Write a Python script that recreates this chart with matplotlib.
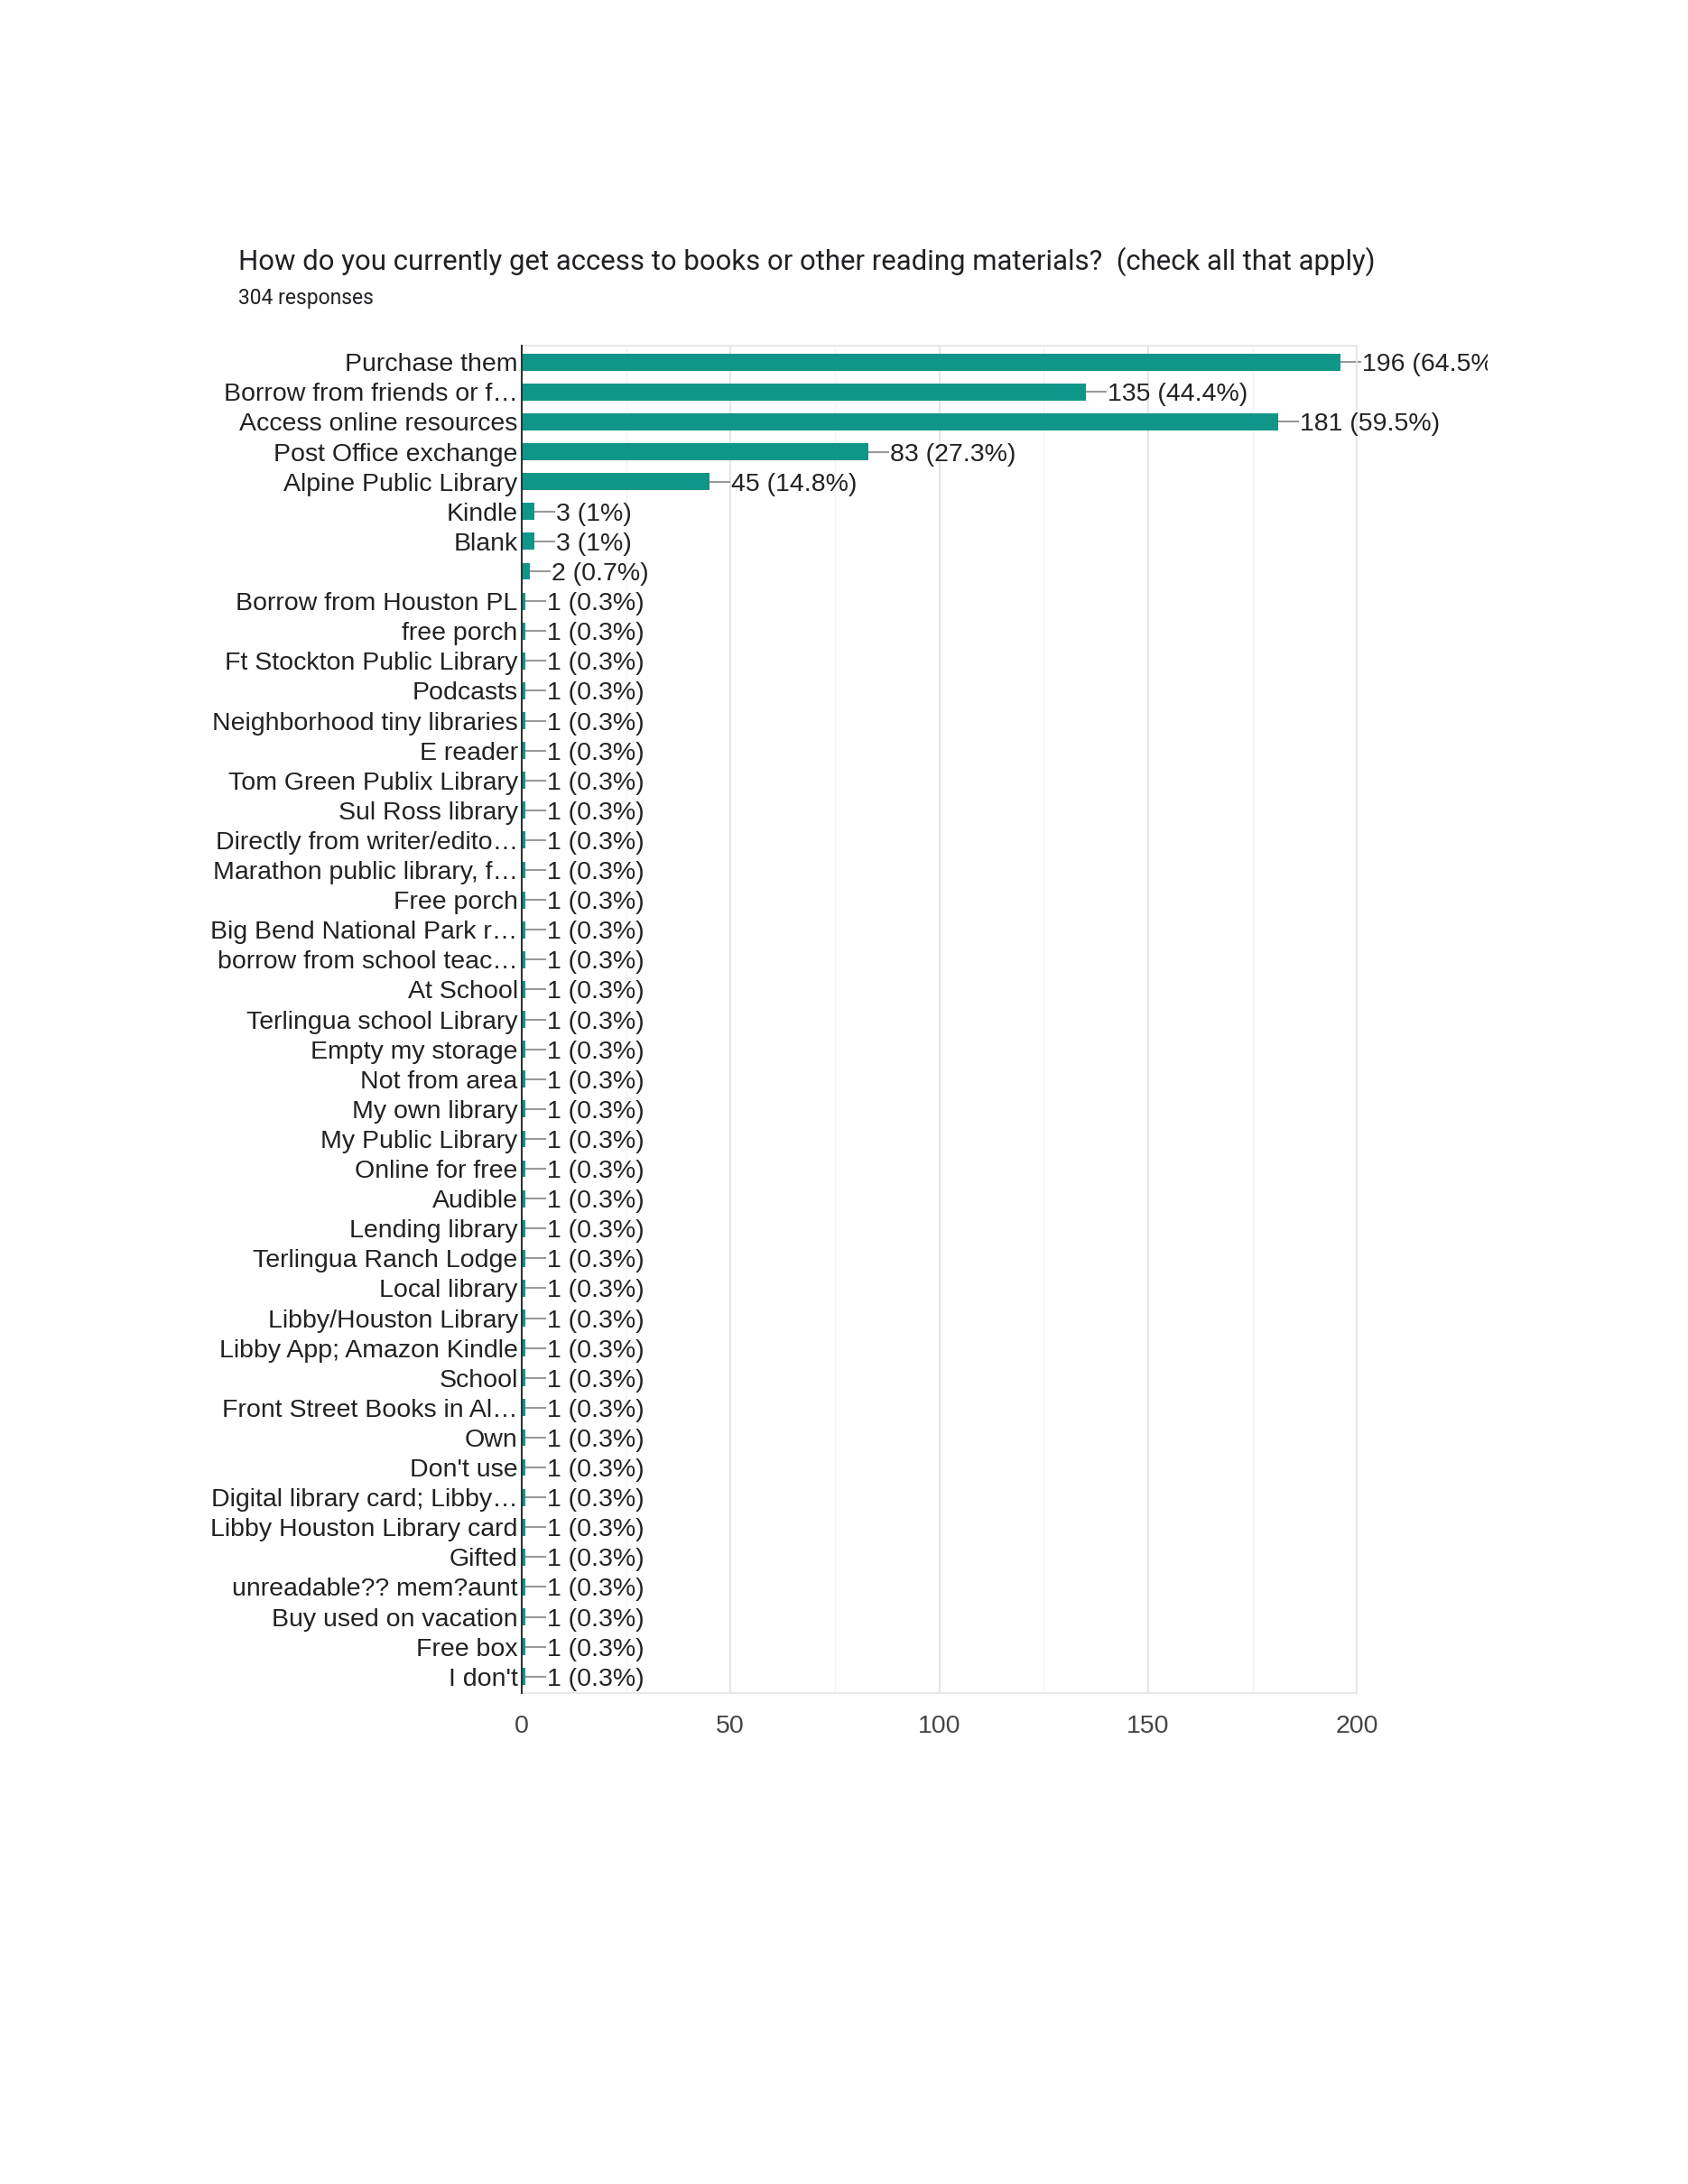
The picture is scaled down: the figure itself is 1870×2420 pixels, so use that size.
import matplotlib
matplotlib.use("Agg")
import matplotlib.pyplot as plt
from matplotlib.transforms import Bbox, TransformedBbox
from matplotlib.ticker import MultipleLocator

plt.rcParams['font.family'] = ['Liberation Sans', 'DejaVu Sans']

title = "How do you currently get access to books or other reading materials?  (check all that apply)"
subtitle = "304 responses"

labels = [
    "Purchase them", "Borrow from friends or f\u2026", "Access online resources",
    "Post Office exchange", "Alpine Public Library", "Kindle", "Blank", "",
    "Borrow from Houston PL", "free porch", "Ft Stockton Public Library", "Podcasts",
    "Neighborhood tiny libraries", "E reader", "Tom Green Publix Library",
    "Sul Ross library", "Directly from writer/edito\u2026", "Marathon public library, f\u2026",
    "Free porch", "Big Bend National Park r\u2026", "borrow from school teac\u2026",
    "At School", "Terlingua school Library", "Empty my storage", "Not from area",
    "My own library", "My Public Library", "Online for free", "Audible",
    "Lending library", "Terlingua Ranch Lodge", "Local library",
    "Libby/Houston Library", "Libby App; Amazon Kindle", "School",
    "Front Street Books in Al\u2026", "Own", "Don't use",
    "Digital library card; Libby\u2026", "Libby Houston Library card", "Gifted",
    "unreadable?? mem?aunt", "Buy used on vacation", "Free box", "I don't",
]
counts = [196, 135, 181, 83, 45, 3, 3, 2] + [1] * 37
percents = ["64.5%", "44.4%", "59.5%", "27.3%", "14.8%", "1%", "1%", "0.7%"] + ["0.3%"] * 37

bar_color = "#0f9688"
text_color = "#222222"

fig = plt.figure(figsize=(18.7, 24.2), dpi=100)
ax = fig.add_axes([0.309, 0.2248, 0.495, 0.6169])

y = list(range(len(labels)))
ax.barh(y, counts, height=0.57, color=bar_color, zorder=3)

ax.set_xlim(0, 200)
ax.set_ylim(len(labels) - 0.45, -0.55)
ax.set_yticks(y)
ax.set_yticklabels(labels, fontsize=20.5, color=text_color)
ax.xaxis.set_major_locator(MultipleLocator(50))
ax.xaxis.set_minor_locator(MultipleLocator(25))
ax.tick_params(axis="x", which="both", length=0, labelsize=20.5, labelcolor="#444444", pad=17)
ax.tick_params(axis="y", length=0, pad=3)
ax.grid(axis="x", which="major", color="#e3e3e3", linewidth=1.3, zorder=0)
ax.grid(axis="x", which="minor", color="#f3f3f3", linewidth=1.0, zorder=0)

for side in ["top", "right", "bottom"]:
    ax.spines[side].set_color("#e6e6e6")
    ax.spines[side].set_linewidth(1.3)
ax.spines["left"].set_color("#333333")
ax.spines["left"].set_linewidth(1.5)
ax.spines["left"].set_zorder(4)

# leader lines + value labels, clipped at the chart's right edge
clip_box = TransformedBbox(Bbox.from_extents(0, 0, 1648 / 1870, 1), fig.transFigure)
px = 200 / (1504 - 578)
for yi, c, p in zip(y, counts, percents):
    ax.plot([c, c + 22 * px], [yi, yi], color="#999999", linewidth=1.5,
            zorder=2, clip_on=False)
    t = ax.text(c + 24 * px, yi, f"{c} ({p})", va="center_baseline", ha="left",
                fontsize=20.5, color=text_color)
    t.set_clip_box(clip_box)
    t.set_clip_on(True)

fig.text(264 / 1870, 1 - 290 / 2420, title, fontsize=22.4, color="#202124",
         va="center", ha="left", family=["Roboto", "DejaVu Sans"])
fig.text(264 / 1870, 1 - 331 / 2420, subtitle, fontsize=16.5, color="#202124",
         va="center", ha="left", family=["Roboto", "DejaVu Sans"])

fig.savefig("out.png", dpi=100, facecolor="white")
